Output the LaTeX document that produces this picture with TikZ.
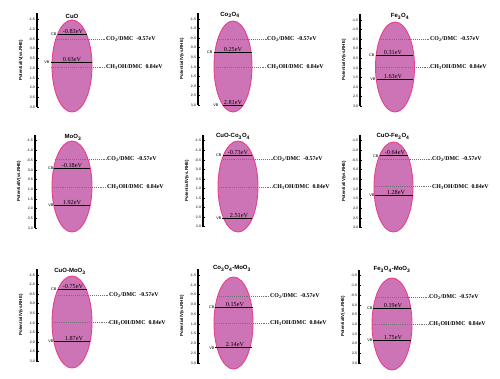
\documentclass[tikz,border=0pt]{standalone}
\usepackage{fontspec}
\setmainfont{Liberation Serif}
\setsansfont{Liberation Sans}
\usetikzlibrary{calc}
\definecolor{blobfill}{RGB}{204,116,182}
\definecolor{blobdraw}{RGB}{232,64,140}
\tikzset{
  blob/.style={fill=blobfill, draw=blobdraw, line width=0.9pt},
  axisline/.style={draw=black, line width=1.1pt},
  tickline/.style={draw=black, line width=0.5pt},
  ticklab/.style={font=\sffamily\bfseries\fontsize{3.6}{4}\selectfont, text=black!65, inner sep=0.3pt},
  axislab/.style={font=\sffamily\bfseries\fontsize{4.4}{5}\selectfont, inner sep=0pt},
  ttl/.style={font=\sffamily\bfseries\fontsize{6}{7}\selectfont, inner sep=0.5pt},
  bandline/.style={draw=black, line width=0.9pt},
  vallab/.style={font=\fontsize{6.2}{7}\selectfont, inner sep=0.6pt, anchor=south},
  bandlab/.style={font=\sffamily\fontsize{3.8}{4}\selectfont, inner sep=0.3pt, anchor=east},
  redoxline/.style={draw=black!55, line width=0.45pt, dash pattern=on 1pt off 0.9pt},
  redoxlab/.style={font=\bfseries\fontsize{5.9}{7}\selectfont, inner sep=0.5pt, anchor=west},
}
% axis: name, x, y(-1.5), y(3.0)
\newcommand\paxis[4]{%
  \draw[axisline] (#2,#3-6) -- (#2,#4+0.5);
  \foreach \lab [count=\i from 0] in {-1.5,-1.0,-0.5,0.0,0.5,1.0,1.5,2.0,2.5,3.0}{%
    \pgfmathsetmacro\yy{#3+\i*(#4-#3)/9}
    \draw[tickline] (#2,\yy) -- (#2+1.8,\yy);
    \node[ticklab, anchor=east] (#1-t\i) at (#2-1.5,\yy) {\lab};
  }
  \node[axislab, rotate=90] (#1-ylab) at (#2-16,{(#3+#4)/2-3}) {Potential/V(vs.RHE)};
}
% level: name, x1, x2, y, value text, value x, band text, band east x
\newcommand\plevel[8]{%
  \draw[bandline] (#2,#4) coordinate (#1-a) -- (#3,#4) coordinate (#1-b);
  \node[vallab] (#1-v) at (#6,#4) {#5};
  \node[bandlab] (#1-n) at (#8,#4) {#7};
}
% redox: name, x1, x2, y, text
\newcommand\predox[5]{%
  \coordinate (#1-a) at (#2,#4);
  \node[redoxlab] (#1-t) at (#3+1.5,#4) {#5};
  \draw[redoxline] (#1-a) -- (#1-t.west);
}
\newcommand\cotwo{CO\textsubscript{2}/DMC\hspace{3pt}-0.57eV}
\newcommand\chtoh{CH\textsubscript{3}OH/DMC\hspace{3pt}0.84eV}
\begin{document}
\begin{tikzpicture}[x=1pt,y=-1pt]
\useasboundingbox[fill=white] (0,0) rectangle (500,379);

% ---------- Panel 1: CuO
\draw[blob] (72,66) ellipse [x radius=20pt, y radius=46pt];
\paxis{p1}{37}{19.5}{107}
\node[ttl] (p1-title) at (72,16.5) {CuO};
\predox{p1-co}{55}{104}{39.3}{\cotwo}
\predox{p1-ch}{51}{104}{67}{\chtoh}
\plevel{p1-cb}{58}{87}{34.3}{-0.83eV}{73}{CB}{57}
\plevel{p1-vb}{51}{92}{62}{0.63eV}{72}{VB}{50}

% ---------- Panel 2: Co3O4
\draw[blob] (233,66.5) ellipse [x radius=19pt, y radius=45.5pt];
\paxis{p2}{198}{19}{105}
\node[ttl] (p2-title) at (230,15) {Co\textsubscript{3}O\textsubscript{4}};
\predox{p2-co}{217}{265}{39}{\cotwo}
\predox{p2-ch}{214}{265}{67}{\chtoh}
\plevel{p2-cb}{214}{252}{52}{0.25eV}{233}{CB}{213}
\plevel{p2-vb}{223}{243}{105}{2.81eV}{233}{VB}{219}

% ---------- Panel 3: Fe3O4
\draw[blob] (395,67) ellipse [x radius=19.5pt, y radius=45pt];
\paxis{p3}{360}{20}{106}
\node[ttl] (p3-title) at (400,16.5) {Fe\textsubscript{3}O\textsubscript{4}};
\predox{p3-co}{379}{428}{39.3}{\cotwo}
\predox{p3-ch}{376}{428}{67}{\chtoh}
\plevel{p3-cb}{376}{413}{55}{0.31eV}{393}{CB}{375}
\plevel{p3-vb}{377}{413}{79}{1.63eV}{393}{VB}{376}

% ---------- Panel 4: MoO3
\draw[blob] (72,186.5) ellipse [x radius=20pt, y radius=45.5pt];
\paxis{p4}{35}{140.7}{228}
\node[ttl] (p4-title) at (73,137.5) {MoO\textsubscript{3}};
\predox{p4-co}{55}{105}{159.3}{\cotwo}
\predox{p4-ch}{52}{105}{187.3}{\chtoh}
\plevel{p4-cb}{54}{90}{168.3}{-0.18eV}{72}{CB}{54}
\plevel{p4-vb}{54}{90}{205}{1.92eV}{72}{VB}{54}

% ---------- Panel 5: CuO-Co3O4
\draw[blob] (238,186.5) ellipse [x radius=20pt, y radius=45.5pt];
\paxis{p5}{203}{140.7}{226.7}
\node[ttl] (p5-title) at (233,136.5) {CuO-Co\textsubscript{3}O\textsubscript{4}};
\predox{p5-co}{223}{271}{159}{\cotwo}
\predox{p5-ch}{219}{271}{187.3}{\chtoh}
\plevel{p5-cb}{223}{252}{155}{-0.73eV}{238}{CB}{222}
\plevel{p5-vb}{222}{252}{218}{2.51eV}{239}{VB}{222}

% ---------- Panel 6: CuO-Fe3O4
\draw[blob] (393.5,187) ellipse [x radius=19.5pt, y radius=45pt];
\paxis{p6}{360}{140.7}{227.7}
\node[ttl] (p6-title) at (393,136.5) {CuO-Fe\textsubscript{3}O\textsubscript{4}};
\predox{p6-co}{380}{430}{159}{\cotwo}
\predox{p6-ch}{375}{430}{186.7}{\chtoh}
\plevel{p6-cb}{380}{408}{155.7}{-0.64eV}{395}{CB}{379}
\plevel{p6-vb}{375}{413}{195}{1.28eV}{396}{VB}{375}

% ---------- Panel 7: CuO-MoO3
\draw[blob] (72,322) ellipse [x radius=20pt, y radius=46pt];
\paxis{p7}{37}{275}{361}
\node[ttl] (p7-title) at (70,271.5) {CuO-MoO\textsubscript{3}};
\predox{p7-co}{58}{107}{295}{\cotwo}
\predox{p7-ch}{53}{107}{322.7}{\chtoh}
\plevel{p7-cb}{58}{87}{289.3}{-0.75eV}{73}{CB}{57}
\plevel{p7-vb}{54}{90}{341}{1.87eV}{74}{VB}{54}

% ---------- Panel 8: Co3O4-MoO3
\draw[blob] (233.5,323) ellipse [x radius=19.5pt, y radius=46pt];
\paxis{p8}{198}{275}{363}
\node[ttl] (p8-title) at (232,268.5) {Co\textsubscript{3}O\textsubscript{4}-MoO\textsubscript{3}};
\predox{p8-co}{217}{268}{296}{\cotwo}
\predox{p8-ch}{215}{268}{323.3}{\chtoh}
\plevel{p8-cb}{215}{253}{307.3}{0.15eV}{235}{CB}{215}
\plevel{p8-vb}{215}{252}{347.7}{2.14eV}{235}{VB}{215}

% ---------- Panel 9: Fe3O4-MoO3
\draw[blob] (392,324) ellipse [x radius=20pt, y radius=46pt];
\paxis{p9}{359}{275.7}{363}
\node[ttl] (p9-title) at (392,269.5) {Fe\textsubscript{3}O\textsubscript{4}-MoO\textsubscript{3}};
\predox{p9-co}{377}{427}{297.3}{\cotwo}
\predox{p9-ch}{373}{427}{324}{\chtoh}
\plevel{p9-cb}{373}{411}{308.3}{0.19eV}{393}{CB}{373}
\plevel{p9-vb}{373}{411}{340}{1.75eV}{393}{VB}{373}
\end{tikzpicture}
\end{document}
